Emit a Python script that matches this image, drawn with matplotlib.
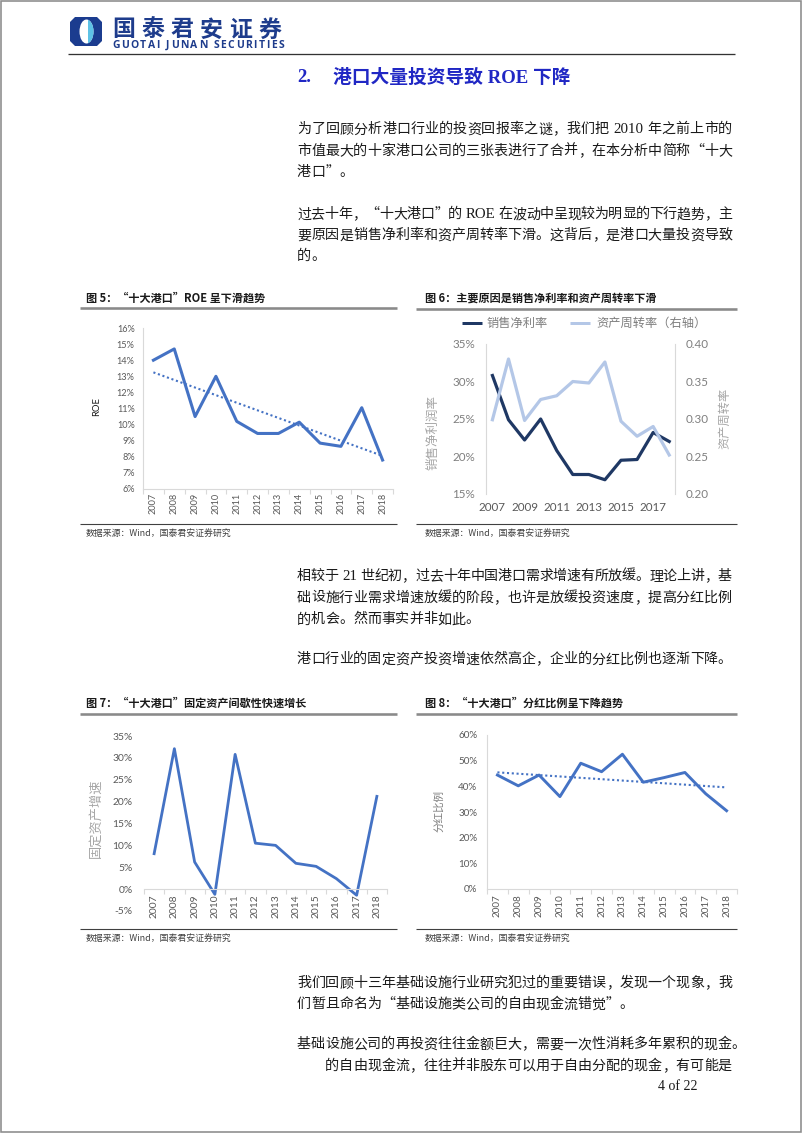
import re
import numpy as np
import matplotlib
matplotlib.use('Agg')
import matplotlib.pyplot as plt
from matplotlib.patches import Polygon, Ellipse, Rectangle

# ---------------- data ----------------
years = [str(y) for y in range(2007, 2019)]
roe = [14.0, 14.7, 10.5, 13.0, 10.2, 9.45, 9.45, 10.15, 8.85, 8.65, 11.05, 7.8]
net_margin = [30.8, 24.9, 22.2, 25.0, 20.8, 17.6, 17.6, 16.9, 19.5, 19.6, 23.2, 22.0]
asset_turnover = [0.299, 0.380, 0.298, 0.326, 0.331, 0.350, 0.348, 0.376, 0.297, 0.277, 0.290, 0.252]
capex_growth = [8.1, 32.1, 6.2, -1.2, 30.8, 10.5, 10.0, 5.9, 5.2, 2.4, -1.4, 21.2]
payout = [44.4, 40.2, 44.4, 36.0, 49.0, 45.7, 52.5, 41.6, 43.4, 45.4, 37.1, 30.5]

roe_ticks = list(range(6, 17))
margin_ticks = [15, 20, 25, 30, 35]
turnover_ticks = [0.20, 0.25, 0.30, 0.35, 0.40]
capex_ticks = list(range(-5, 36, 5))
payout_ticks = list(range(0, 61, 10))

fig_titles = ['图 5：“十大港口”ROE 呈下滑趋势',
              '图 6：主要原因是销售净利率和资产周转率下滑',
              '图 7：“十大港口”固定资产间歇性快速增长',
              '图 8：“十大港口”分红比例呈下降趋势']
source = '数据来源：Wind，国泰君安证券研究'
legend_labels = ['销售净利率', '资产周转率（右轴）']

paragraphs = [
    (128.3, 21.5, ['为了回顾分析港口行业的投资回报率之谜，我们把 2010 年之前上市的',
                   '市值最大的十家港口公司的三张表进行了合并，在本分析中简称“十大',
                   '港口”。']),
    (213.3, 21.0, ['过去十年，“十大港口”的 ROE 在波动中呈现较为明显的下行趋势，主',
                   '要原因是销售净利率和资产周转率下滑。这背后，是港口大量投资导致',
                   '的。']),
    (575.0, 21.7, ['相较于 21 世纪初，过去十年中国港口需求增速有所放缓。理论上讲，基',
                   '础设施行业需求增速放缓的阶段，也许是放缓投资速度，提高分红比例',
                   '的机会。然而事实并非如此。']),
    (658.3, 21.7, ['港口行业的固定资产投资增速依然高企，企业的分红比例也逐渐下降。']),
    (981.7, 21.6, ['我们回顾十三年基础设施行业研究犯过的重要错误，发现一个现象，我',
                   '们暂且命名为“基础设施类公司的自由现金流错觉”。']),
    (1043.3, 21.7, ['基础设施公司的再投资往往金额巨大，需要一次性消耗多年累积的现金。']),
]

# ---------------- setup ----------------
plt.rcParams['font.family'] = ['Lato', 'Noto Sans CJK SC', 'DejaVu Sans']
W, H = 802, 1133
fig = plt.figure(figsize=(W / 100, H / 100), dpi=100)
fig.patch.set_facecolor('white')
bg = fig.add_axes([0, 0, 1, 1])
bg.set_xlim(0, W)
bg.set_ylim(H, 0)
bg.axis('off')
renderer = fig.canvas.get_renderer()

CJK = ['Noto Sans CJK SC']
SERIF = ['Liberation Serif', 'Noto Sans CJK SC']
PX = 100 / 72.0


def hline(x0, x1, y, color, lw_px):
    bg.plot([x0, x1], [y, y], color=color, lw=lw_px / PX, solid_capstyle='butt')


def ax_at(l, t, r, b):
    a = fig.add_axes([l / W, 1 - b / H, (r - l) / W, (b - t) / H])
    a.set_facecolor('none')
    return a


def spread(s, x0, x1, yc, **kw):
    """place characters of s evenly spread between x0 and x1"""
    items = []
    fs = kw.get('fontsize', 8)
    for ch in s:
        if ch == ' ':
            items.append((None, 0.3 * fs * PX))
        else:
            o = bg.text(0, yc, ch, ha='left', va='center', **kw)
            items.append((o, o.get_window_extent(renderer).width))
    extra = (x1 - x0 - sum(w for _, w in items)) / (len(items) - 1)
    cx = x0
    for o, w in items:
        if o is not None:
            o.set_x(cx)
        cx += w + extra


# ---------------- page frame & header ----------------
bg.add_patch(Rectangle((0.8, 0.8), W - 1.6, H - 1.6, fill=False, ec='#8c8c8c', lw=1.6 / PX))
oct_pts = [(75, 17), (97, 17), (102, 22), (102, 41), (97, 46), (75, 46), (70, 41), (70, 22)]
bg.add_patch(Polygon(oct_pts, closed=True, fc='#1B3C8F', ec='none'))
bg.add_patch(Ellipse((86.5, 31.5), 14, 24, fc='white', ec='none'))
t = np.linspace(-np.pi / 2, np.pi / 2, 40)
half = [(86.5 + 7.0 * np.cos(a), 31.5 + 12.0 * np.sin(a)) for a in t]
bg.add_patch(Polygon([(88, 19.5)] + half[1:-1] + [(88, 43.5)], closed=True, fc='#5EC2E6', ec='none'))
for i, ch in enumerate('国泰君安证券'):
    bg.text(123.5 + i * 29.2, 30, ch, fontsize=16.5, family=CJK, weight='bold',
            color='#1E3C8C', ha='center', va='center')
spread('GUOTAI JUNAN SECURITIES', 112, 284, 45.5, fontsize=7.5, family=['Open Sans'],
       weight='bold', color='#1E3C8C')
hline(68, 735, 54, '#333333', 1.3)

# section title
bg.text(297, 78, '2.', fontsize=13.5, family=SERIF, weight='bold', color='#2027C4',
        ha='left', va='center')
bg.text(333, 78, '港口大量投资导致 ROE 下降', fontsize=13.5, family=SERIF, weight='bold',
        color='#2027C4', ha='left', va='center')

# ---------------- body text (justified) ----------------
FS = 10.1
EM = FS * PX
LEFT, FULLW = 297, 435


def put_line(x0, yc, s, justify):
    toks = re.findall(r'[A-Za-z0-9.]+|\s+|.', s)
    yb = yc + 0.36 * EM
    items = []
    for tk in toks:
        if tk.isspace():
            items.append((None, 0.28 * EM * len(tk), tk))
        elif re.match(r'[A-Za-z0-9.]', tk):
            o = bg.text(0, yb, tk, fontsize=FS + 0.6, family=SERIF, color='#1a1a1a',
                        ha='left', va='baseline')
            items.append((o, o.get_window_extent(renderer).width, tk))
        else:
            ha = 'right' if tk == '“' else 'left'
            o = bg.text(0, yb, tk, fontsize=FS, family=CJK, color='#1a1a1a',
                        ha=ha, va='baseline')
            items.append((o, EM, tk))
    extra = 0.0
    if justify and len(items) > 1:
        extra = (FULLW - sum(w for _, w, _ in items)) / (len(items) - 1)
    cx = x0
    for o, w, tk in items:
        if o is not None:
            o.set_x(cx + w if tk == '“' else cx)
        cx += w + extra


for y0, step, lines in paragraphs:
    for i, ln in enumerate(lines):
        put_line(LEFT, y0 + i * step, ln, justify=(i < len(lines) - 1))
put_line(325, 1065, '的自由现金流，往往并非股东可以用于自由分配的现金，有可能是', justify=False)
bg.text(658, 1086, '4 of 22', fontsize=10, family=SERIF, color='#1a1a1a', ha='left', va='center')

# ---------------- chart frames ----------------
for (x0, x1, yt, yb, tx) in [(80, 397, 308, 524, 86), (416, 737, 309, 524, 425),
                             (80, 397, 714, 929, 86), (416, 737, 714, 929, 425)]:
    hline(x0, x1, yt, '#8a8a8a', 2.6)
    hline(x0, x1, yb, '#404040', 1.1)
    bg.text(tx, yb + 9.5, source, fontsize=6.4, family=CJK, color='#404040',
            ha='left', va='center')
bg.text(86, 298, fig_titles[0], fontsize=8, family=CJK, weight='bold', color='#1a1a1a', va='center')
bg.text(425, 298, fig_titles[1], fontsize=8, family=CJK, weight='bold', color='#1a1a1a', va='center')
bg.text(86, 703, fig_titles[2], fontsize=8, family=CJK, weight='bold', color='#1a1a1a', va='center')
bg.text(425, 703, fig_titles[3], fontsize=8, family=CJK, weight='bold', color='#1a1a1a', va='center')

BLUE = '#4472C4'
TICKC = '#595959'
SPC = '#D9D9D9'
x = np.arange(len(years))


def cat_axis(a, fs, pad):
    a.set_xlim(-0.5, len(years) - 0.5)
    a.set_xticks(x)
    a.set_xticklabels(years, rotation=90)
    a.set_xticks(np.arange(-0.5, len(years), 1), minor=True)
    a.tick_params(axis='x', which='major', length=0, pad=pad, labelsize=fs, labelcolor=TICKC)
    a.tick_params(axis='x', which='minor', length=3.5, color=SPC, width=0.8)


# ---- Chart 5: ROE ----
a5 = ax_at(143, 328, 393, 489)
a5.plot(x, roe, color=BLUE, lw=2.2, solid_joinstyle='round')
k, b0 = np.polyfit(x, roe, 1)
a5.plot(x, k * x + b0, color=BLUE, lw=1.5, ls=(0, (1, 1.3)))
a5.set_ylim(6, 16)
a5.set_yticks(roe_ticks)
a5.set_yticklabels([f'{v}%' for v in roe_ticks])
a5.tick_params(axis='y', length=0, pad=6, labelsize=6.6, labelcolor=TICKC)
cat_axis(a5, 6.6, 3)
for s in ['top', 'right']:
    a5.spines[s].set_visible(False)
for s in ['left', 'bottom']:
    a5.spines[s].set_color(SPC)
    a5.spines[s].set_linewidth(0.8)
bg.text(97, 407, 'ROE', fontsize=6.8, rotation=90, ha='center', va='center', color='#1a1a1a')

# ---- Chart 6: net margin & asset turnover ----
a6 = ax_at(486, 344, 675, 494)
a6.plot(x, net_margin, color='#1F3864', lw=2.3, solid_joinstyle='round')
a6.set_xlim(-0.4, 11.36)
a6.set_ylim(15, 35)
a6.set_yticks(margin_ticks)
a6.set_yticklabels([f'{v}%' for v in margin_ticks])
a6.set_xticks(x[::2])
a6.set_xticklabels(years[::2])
a6.tick_params(axis='y', length=0, pad=8, labelsize=8.4, labelcolor='#7F7F7F')
a6.tick_params(axis='x', length=0, pad=6, labelsize=8.4, labelcolor='#595959')
a6b = a6.twinx()
a6b.plot(x, asset_turnover, color='#B4C7E7', lw=2.3, solid_joinstyle='round')
a6b.set_ylim(0.20, 0.40)
a6b.set_yticks(turnover_ticks)
a6b.set_yticklabels([f'{v:.2f}' for v in turnover_ticks])
a6b.tick_params(axis='y', length=0, pad=8, labelsize=8.4, labelcolor='#7F7F7F')
for s in ['top', 'bottom', 'right']:
    a6.spines[s].set_visible(False)
for s in ['top', 'bottom', 'left']:
    a6b.spines[s].set_visible(False)
a6.spines['left'].set_color(SPC)
a6b.spines['right'].set_color(SPC)
bg.text(433, 432, '销售净利润率', fontsize=9, family=CJK, color='#A6A6A6', rotation=90,
        ha='center', va='center')
bg.text(725, 418, '资产周转率', fontsize=8.8, family=CJK, color='#A6A6A6', rotation=90,
        ha='center', va='center')
hline(462, 482, 323, '#1F3864', 3.0)
bg.text(487, 323, legend_labels[0], fontsize=8.8, family=CJK, color='#7F7F7F', va='center')
hline(570, 590, 323, '#B4C7E7', 3.0)
bg.text(596, 323, legend_labels[1], fontsize=8.8, family=CJK, color='#7F7F7F', va='center')

# ---- Chart 7: capex growth ----
a7 = ax_at(144, 736, 387, 911)
a7.plot(x, capex_growth, color=BLUE, lw=2.0, solid_joinstyle='round')
a7.set_ylim(-5, 35)
a7.spines['bottom'].set_position(('data', 0))
a7.spines['bottom'].set_color(SPC)
a7.spines['bottom'].set_linewidth(0.8)
for s in ['top', 'right', 'left']:
    a7.spines[s].set_visible(False)
a7.set_yticks(capex_ticks)
a7.set_yticklabels([f'{v}%' for v in capex_ticks])
a7.tick_params(axis='y', length=0, pad=8, labelsize=7.4, labelcolor=TICKC)
cat_axis(a7, 7.4, 4)
bg.text(96, 818, '固定资产增速', fontsize=9.5, family=CJK, color='#A6A6A6', rotation=90,
        ha='center', va='center')

# ---- Chart 8: payout ratio ----
a8 = ax_at(487, 735, 737, 889)
a8.plot(x, payout, color=BLUE, lw=2.1, solid_joinstyle='round')
k8, b8 = np.polyfit(x, payout, 1)
a8.plot(x, k8 * x + b8, color=BLUE, lw=1.5, ls=(0, (1, 1.3)))
a8.set_ylim(0, 60)
a8.set_yticks(payout_ticks)
a8.set_yticklabels([f'{v}%' for v in payout_ticks])
a8.tick_params(axis='y', length=0, pad=7, labelsize=7.1, labelcolor=TICKC)
cat_axis(a8, 7.1, 4)
for s in ['top', 'right']:
    a8.spines[s].set_visible(False)
for s in ['left', 'bottom']:
    a8.spines[s].set_color(SPC)
    a8.spines[s].set_linewidth(0.8)
bg.text(439, 811, '分红比例', fontsize=7.6, family=CJK, color='#7F7F7F', rotation=90,
        ha='center', va='center')

fig.savefig('out.png', dpi=100, facecolor='white')
